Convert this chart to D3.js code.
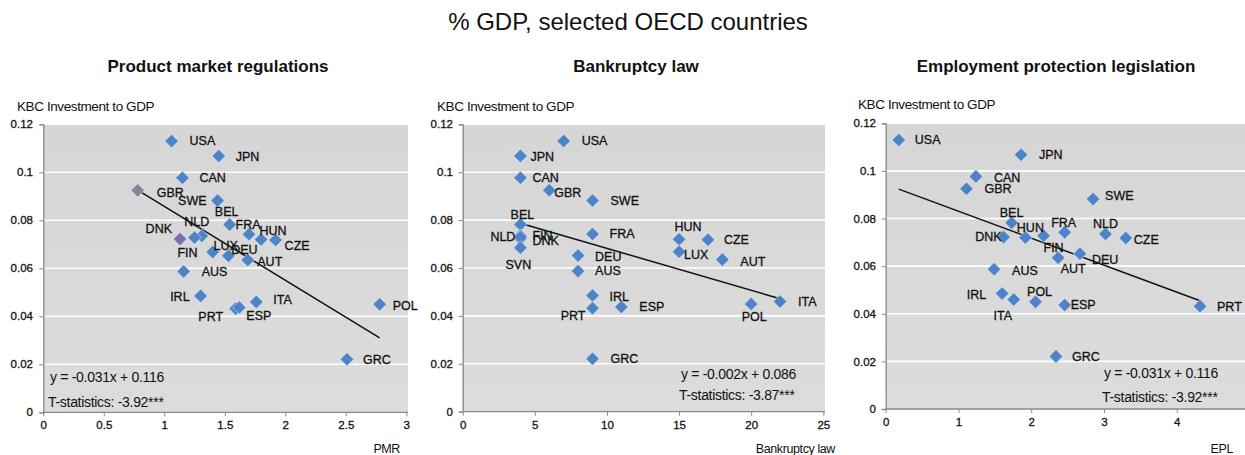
<!DOCTYPE html>
<html><head><meta charset="utf-8">
<script src="https://cdn.jsdelivr.net/npm/d3@7"></script>
<style>
body{margin:0;background:#fff}
svg{display:block;font-family:"Liberation Sans",Arial,sans-serif}
</style>
</head><body><svg id="c" width="1245" height="455"></svg>
<script>
// ---------------- DATA ----------------
const countries = ["USA","JPN","CAN","GBR","SWE","BEL","FRA","HUN","CZE","DNK","NLD","FIN","LUX","DEU","AUT","AUS","IRL","PRT","ESP","ITA","POL","GRC","SVN"];
const kbcInvestment = [0.1130,0.1068,0.0977,0.0925,0.0882,0.0782,0.0742,0.0720,0.0718,0.0722,0.0735,0.0728,0.0668,0.0652,0.0635,0.0587,0.0485,0.0432,0.0437,0.0460,0.0450,0.0221,0.0685];
const pmrValues        = [1.06,1.45,1.15,0.78,1.44,1.54,1.70,1.80,1.92,1.13,1.31,1.25,1.40,1.53,1.69,1.16,1.30,1.59,1.62,1.76,2.78,2.51,null];
const bankruptcyValues = [7,4,4,6,9,4,9,15,17,4,4,4,15,8,18,8,9,9,11,22,20,9,4];
const eplValues        = [0.18,1.86,1.24,1.11,2.85,1.73,2.46,1.92,3.30,1.62,3.02,2.17,null,2.67,2.37,1.49,1.60,4.32,2.46,1.76,2.06,2.34,null];

const yTicks = [0,0.02,0.04,0.06,0.08,0.1,0.12];
const yTickLabels = ["0","0.02","0.04","0.06","0.08","0.1","0.12"];
const xTicksPMR = [0,0.5,1,1.5,2,2.5,3];
const xTicksBankruptcy = [0,5,10,15,20,25];
const xTicksEPL = [0,1,2,3,4];

const trendSlopes = [-0.0308,-0.00175,-0.01133];
const trendIntercepts = [0.1166,0.0857,0.0944];
const equationTexts = ["y = -0.031x + 0.116","y = -0.002x + 0.086","y = -0.031x + 0.116"];
const tstatTexts = ["T-statistics: -3.92***","T-statistics: -3.87***","T-statistics: -3.92***"];
const panelTitles = ["Product market regulations","Bankruptcy law","Employment protection legislation"];
const xAxisTitles = ["PMR","Bankruptcy law","EPL"];
const mainTitle = "% GDP, selected OECD countries";
const yAxisTitle = "KBC Investment to GDP";

// ---------------- LAYOUT ----------------
// label placement: [dx, dy, anchor]
const labelsPMR = {USA:[18,0,"start"],JPN:[17,1,"start"],CAN:[17,0,"start"],GBR:[19,2,"start"],SWE:[-11,0,"end"],
  BEL:[-3,-13,"middle"],FRA:[-1,-10,"middle"],HUN:[12,-9,"middle"],CZE:[9,6,"start"],DNK:[-8,-10,"end"],
  NLD:[-5,-14,"middle"],FIN:[-7,15,"middle"],LUX:[13,-6,"middle"],DEU:[16,-6,"middle"],AUT:[22,2,"middle"],
  AUS:[18,0,"start"],IRL:[-11,1,"end"],PRT:[-25,8,"middle"],ESP:[7,8,"start"],ITA:[17,-2,"start"],
  POL:[13,1,"start"],GRC:[16,0,"start"]};
const labelsBank = {USA:[18,0,"start"],JPN:[10,1,"start"],CAN:[12,0,"start"],GBR:[5,2,"start"],SWE:[18,0,"start"],
  BEL:[2,-10,"middle"],NLD:[-5,1,"end"],FIN:[12,-2,"start"],DNK:[12,2,"start"],SVN:[-2,17,"middle"],
  FRA:[17,0,"start"],HUN:[9,-13,"middle"],CZE:[16,0,"start"],LUX:[5,3,"start"],AUT:[18,2,"start"],
  DEU:[17,1,"start"],AUS:[17,0,"start"],IRL:[17,1,"start"],PRT:[-7,7,"end"],ESP:[18,0,"start"],
  POL:[3,13,"middle"],ITA:[18,0,"start"],GRC:[18,0,"start"]};
const labelsEPL = {USA:[16,0,"start"],JPN:[18,0,"start"],CAN:[18,1,"start"],GBR:[18,0,"start"],SWE:[12,-3,"start"],
  BEL:[0,-10,"middle"],DNK:[-2,0,"end"],HUN:[5,-10,"middle"],FIN:[10,12,"middle"],FRA:[-1,-10,"middle"],
  NLD:[0,-10,"middle"],CZE:[8,2,"start"],DEU:[12,6,"start"],AUT:[15,11,"middle"],AUS:[18,1,"start"],
  IRL:[-16,1,"end"],ITA:[-11,16,"middle"],POL:[4,-10,"middle"],ESP:[6,0,"start"],PRT:[17,0,"start"],GRC:[16,0,"start"]};

const panels = [
  {xs:pmrValues, xTicks:xTicksPMR, xDomain:[0,3], xRange:[43.3,406.3], yRange:[412.3,124.3], bgRight:408,
   labels:labelsPMR, titleX:218, yTitleX:17, yTitleY:111, tickEnd:33, xTitleRight:400,
   eqX:50, eqY:[382,407], special:{GBR:"#86869a",DNK:"#7a6ea8"}},
  {xs:bankruptcyValues, xTicks:xTicksBankruptcy, xDomain:[0,25], xRange:[462.7,823.3], yRange:[411.7,124.3], bgRight:825,
   labels:labelsBank, titleX:636, yTitleX:437, yTitleY:111, tickEnd:453, xTitleRight:835,
   eqX:681, eqY:[379,400], special:{}},
  {xs:eplValues, xTicks:xTicksEPL, xDomain:[0,5], xRange:[885.7,1249.5], yRange:[409,123.3], bgRight:1245,
   labels:labelsEPL, titleX:1056, yTitleX:858, yTitleY:109, tickEnd:876, xTitleRight:1233,
   eqX:1104, eqY:[378,402], special:{}}
];

const svg = d3.select("#c");
svg.append("text").attr("x",628).attr("y",30).attr("text-anchor","middle")
  .attr("font-size",24).attr("fill","#111").text(mainTitle);

const blue = "#4f83c8";

panels.forEach((p,i)=>{
  const x = d3.scaleLinear().domain(p.xDomain).range(p.xRange);
  const y = d3.scaleLinear().domain([0,0.12]).range(p.yRange);
  const g = svg.append("g");

  g.append("text").attr("x",p.titleX).attr("y",72).attr("text-anchor","middle")
    .attr("font-size",17).attr("font-weight","bold").attr("fill","#111").text(panelTitles[i]);

  g.append("text").attr("x",p.yTitleX).attr("y",p.yTitleY).attr("font-size",13.5)
    .attr("letter-spacing",-0.4).attr("fill","#111").text(yAxisTitle);

  // plot background
  const grad = svg.append("defs").append("linearGradient").attr("id","bg"+i)
    .attr("x1",0).attr("y1",0).attr("x2",0).attr("y2",1);
  grad.append("stop").attr("offset",0).attr("stop-color","#d6d6d6");
  grad.append("stop").attr("offset",1).attr("stop-color","#dcdcdc");
  g.append("rect").attr("x",p.xRange[0]).attr("y",y(0.12)).attr("width",p.bgRight-p.xRange[0])
    .attr("height",y(0)-y(0.12)).attr("fill","url(#bg"+i+")");

  // gridlines
  g.selectAll(".grid").data(yTicks.filter(t=>t>0)).enter().append("line")
    .attr("x1",p.xRange[0]+1).attr("x2",p.bgRight).attr("y1",d=>y(d)).attr("y2",d=>y(d))
    .attr("stroke","#ffffff").attr("stroke-width",1.6);

  // y axis
  const ya = g.append("g").attr("transform",`translate(${p.xRange[0]},0)`)
    .call(d3.axisLeft(y).tickValues(yTicks).tickSize(4).tickFormat((d,k)=>yTickLabels[k]));
  ya.select(".domain").attr("stroke","#8a8a8a").attr("stroke-width",1.3);
  ya.selectAll(".tick line").attr("stroke","#8a8a8a");
  ya.selectAll(".tick text").attr("x",p.tickEnd-p.xRange[0]).attr("font-size",11.5)
    .attr("font-family","Liberation Sans, Arial, sans-serif").attr("fill","#111")
    .attr("stroke","#111").attr("stroke-width",0.3);

  // x axis
  const xa = g.append("g").attr("transform",`translate(0,${y(0)})`)
    .call(d3.axisBottom(x).tickValues(p.xTicks).tickSize(4).tickSizeOuter(0).tickFormat(d3.format("")));
  xa.select(".domain").attr("stroke","#8a8a8a").attr("stroke-width",1.3)
    .attr("d",`M${p.xRange[0]},0H${p.bgRight}`);
  xa.selectAll(".tick line").attr("stroke","#8a8a8a");
  xa.selectAll(".tick text").attr("y",9).attr("font-size",11.5)
    .attr("font-family","Liberation Sans, Arial, sans-serif").attr("fill","#111")
    .attr("stroke","#111").attr("stroke-width",0.3);

  g.append("text").attr("x",p.xTitleRight).attr("y",453).attr("text-anchor","end")
    .attr("font-size",12.5).attr("letter-spacing",-0.4).attr("fill","#111").text(xAxisTitles[i]);

  // points
  const pts = countries.map((c,k)=>({c, xv:p.xs[k], yv:kbcInvestment[k]})).filter(d=>d.xv!==null);

  // trend line
  const xMin = d3.min(pts,d=>d.xv), xMax = d3.max(pts,d=>d.xv);
  g.append("line").attr("x1",x(xMin)).attr("x2",x(xMax))
    .attr("y1",y(trendSlopes[i]*xMin+trendIntercepts[i]))
    .attr("y2",y(trendSlopes[i]*xMax+trendIntercepts[i]))
    .attr("stroke","#111").attr("stroke-width",1.5);

  const sym = d3.symbol().type(d3.symbolSquare).size(92);
  g.selectAll(".pt").data(pts).enter().append("path")
    .attr("d",sym)
    .attr("transform",d=>`translate(${x(d.xv)},${y(d.yv)}) rotate(45)`)
    .attr("fill",d=>p.special[d.c]||blue)
    .attr("stroke","rgba(255,255,255,0.35)").attr("stroke-width",1);

  g.selectAll(".lbl").data(pts).enter().append("text")
    .attr("x",d=>x(d.xv)+(p.labels[d.c]||[15,0])[0])
    .attr("y",d=>y(d.yv)+(p.labels[d.c]||[15,0])[1])
    .attr("dy","0.35em")
    .attr("text-anchor",d=>(p.labels[d.c]||[0,0,"start"])[2])
    .attr("font-size",12.5).attr("fill","#111").attr("stroke","#111").attr("stroke-width",0.3)
    .text(d=>d.c);

  g.append("text").attr("x",p.eqX).attr("y",p.eqY[0]).attr("font-size",14).attr("letter-spacing",-0.3)
    .attr("fill","#111").text(equationTexts[i]);
  g.append("text").attr("x",p.eqX-2).attr("y",p.eqY[1]).attr("font-size",14).attr("letter-spacing",-0.3)
    .attr("fill","#111").text(tstatTexts[i]);
});
</script></body></html>
